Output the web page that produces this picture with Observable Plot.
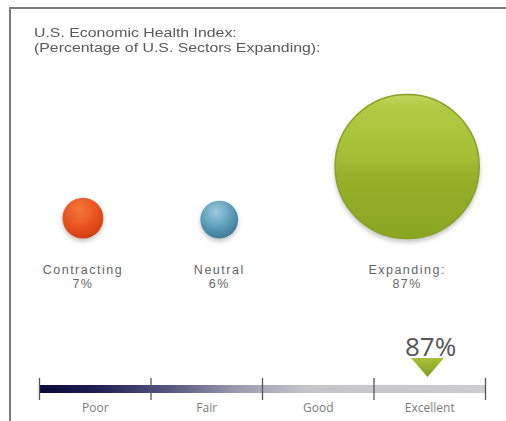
<!DOCTYPE html>
<html>
<head>
<meta charset="utf-8">
<script src="https://cdn.jsdelivr.net/npm/d3@7"></script>
<script src="https://cdn.jsdelivr.net/npm/@observablehq/plot@0.6"></script>
<style>
  html, body { margin: 0; padding: 0; background: #fff; }
  #wrap { position: relative; width: 506px; height: 421px; overflow: hidden; background: #fff; font-family: "Open Sans", sans-serif; }
  #frame { position: absolute; left: 9px; top: 7px; width: 520px; height: 440px; border-top: 2px solid #7b7b7b; border-left: 2px solid #7b7b7b; }
  #title { position: absolute; left: 34px; top: 25px; font-family: "Liberation Sans", sans-serif; font-size: 13px; line-height: 15px; color: #5a5a5a; transform: scaleX(1.22); transform-origin: 0 0; white-space: nowrap; }
  #title div { height: 15px; }
  .layer { position: absolute; left: 0; top: 0; }
</style>
</head>
<body>
<div id="wrap">
  <div id="frame"></div>
  <div id="title"><div>U.S. Economic Health Index:</div><div>(Percentage of U.S. Sectors Expanding):</div></div>
  <div id="bubbles" class="layer"></div>
  <div id="gauge" class="layer"></div>
</div>
<script>
// ---- data ----
const categories = ["Contracting", "Neutral", "Expanding:"];
const shares = [7, 6, 87];
const gaugeLabels = ["Poor", "Fair", "Good", "Excellent"];
const gaugeTicks = [0, 25, 50, 75, 100];
const indexValue = 87;

// styling map (not data)
const fillFor = {"Contracting": "url(#gRed)", "Neutral": "url(#gBlue)", "Expanding:": "url(#gGreen)"};
const strokeFor = {"Contracting": "none", "Neutral": "none", "Expanding:": "#86a21f"};

// ---- bubbles ----
const rScale = Plot.scale({r: {type: "sqrt", domain: [0, 87], range: [0, 72]}});
const startX = 62, gap = 97, baseY = 238;
let cursor = startX;
const bubbles = categories.map((c, i) => {
  const r = rScale.apply(shares[i]);
  const cx = cursor + r;
  cursor += 2 * r + gap;
  return {category: c, share: shares[i], cx, cy: baseY - r};
});

const labelFont = {fontSize: 12.5, fill: "#666", fontFamily: "Liberation Sans", className: "blab"};
const p1 = Plot.plot({
  width: 506, height: 421,
  margin: 0,
  x: {type: "identity", axis: null},
  y: {type: "identity", axis: null},
  r: {type: "sqrt", domain: [0, 87], range: [0, 72]},
  marks: [
    Plot.dot(bubbles, {x: "cx", y: "cy", r: "share", fill: d => fillFor[d.category], stroke: d => strokeFor[d.category], strokeWidth: 1.5, className: "bub"}),
    Plot.text(bubbles, {x: "cx", y: baseY + 31, text: "category", ...labelFont}),
    Plot.text(bubbles, {x: "cx", y: baseY + 45.5, text: d => d.share + "%", ...labelFont})
  ]
});
document.getElementById("bubbles").appendChild(p1);

// gradients
const defs = d3.select(p1).insert("defs", ":first-child");
function radial(id, stops, cx = "42%", cy = "30%", r = "75%") {
  const g = defs.append("radialGradient").attr("id", id).attr("cx", cx).attr("cy", cy).attr("r", r);
  stops.forEach(([o, c]) => g.append("stop").attr("offset", o).attr("stop-color", c));
}
radial("gRed", [["0%", "#f27a3e"], ["55%", "#e9531f"], ["100%", "#cc3c12"]]);
radial("gBlue", [["0%", "#9ccbe0"], ["55%", "#5c9db9"], ["100%", "#3a7691"]]);
const lg = defs.append("linearGradient").attr("id", "gGreen").attr("x1", 0).attr("y1", 0).attr("x2", 0).attr("y2", 1);
[["0%", "#c0d65a"], ["8%", "#b2cb45"], ["45%", "#a2bd33"], ["55%", "#97b12a"], ["100%", "#8aa522"]]
  .forEach(([o, c]) => lg.append("stop").attr("offset", o).attr("stop-color", c));
d3.select(p1).selectAll(".bub circle")
  .style("filter", "drop-shadow(0px 3px 2px rgba(0,0,0,0.22))");
d3.select(p1).selectAll(".blab text").style("letter-spacing", "1.5px");

// ---- gauge ----
const p2 = Plot.plot({
  width: 506, height: 421,
  marginLeft: 39, marginRight: 21, marginTop: 0, marginBottom: 0,
  x: {domain: [0, 100], axis: null},
  y: {type: "identity", axis: null},
  marks: [
    Plot.rect([0], {x1: 0, x2: 100, y1: 385, y2: 393, fill: "url(#gBar)"}),
    Plot.ruleX(gaugeTicks, {x: d => d, y1: 378, y2: 400, stroke: "#555", strokeWidth: 1.3}),
    Plot.text(gaugeLabels, {x: (d, i) => 12.5 + 25 * i, y: 408, text: d => d, fontSize: 12, fill: "#7a7a7a", fontFamily: "Open Sans"}),
    Plot.dot([indexValue], {
      x: d => d, y: 367, r: 16.5, fill: "url(#gTri)", stroke: null,
      symbol: {draw(ctx, size) {
        const w = Math.sqrt(size / Math.PI);
        const h = w * 1.15;
        ctx.moveTo(-w, -h / 2); ctx.lineTo(w, -h / 2); ctx.lineTo(0, h / 2); ctx.closePath();
      }}
    }),
    Plot.text([indexValue], {x: d => d, dx: 3, y: 347, text: d => d + "%", fontSize: 26, fill: "#555", fontFamily: "Open Sans"})
  ]
});
document.getElementById("gauge").appendChild(p2);
const defs2 = d3.select(p2).insert("defs", ":first-child");
const bg = defs2.append("linearGradient").attr("id", "gBar");
[["0%", "#0a0a38"], ["12%", "#1c1c50"], ["30%", "#5a5a84"], ["45%", "#9c9cb0"], ["60%", "#c4c4ca"], ["100%", "#cdcdcf"]]
  .forEach(([o, c]) => bg.append("stop").attr("offset", o).attr("stop-color", c));
const tg = defs2.append("linearGradient").attr("id", "gTri").attr("x1", 0).attr("y1", 0).attr("x2", 0).attr("y2", 1);
[["0%", "#a8c23a"], ["100%", "#7f9a1e"]].forEach(([o, c]) => tg.append("stop").attr("offset", o).attr("stop-color", c));
</script>
</body>
</html>
